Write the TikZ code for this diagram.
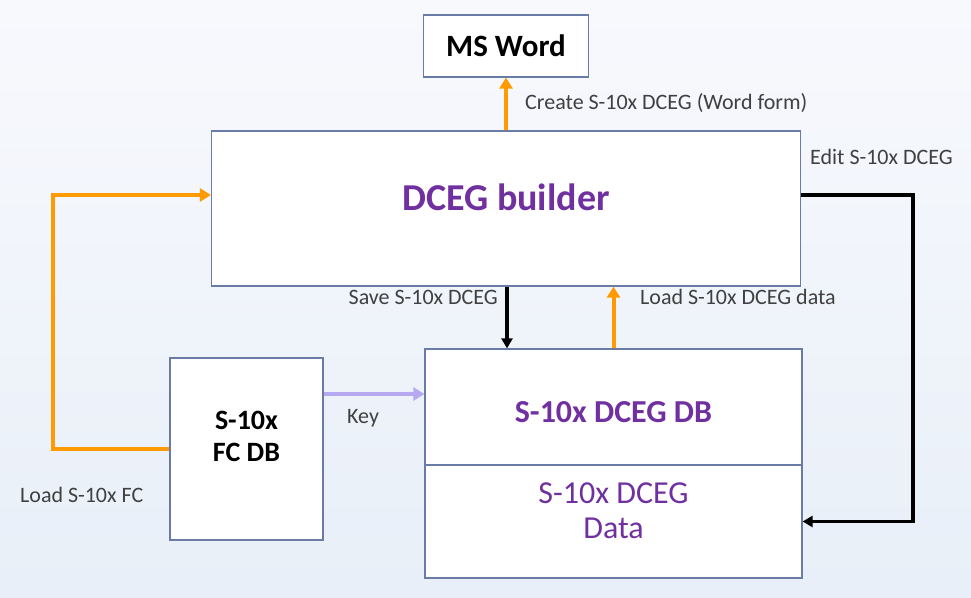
\documentclass[tikz,border=0pt]{standalone}
\usepackage{fontspec}
\setmainfont{Carlito}
\usetikzlibrary{arrows.meta,calc}
\definecolor{bgtop}{HTML}{F8F9FD}
\definecolor{bgbot}{HTML}{E8EFF8}
\definecolor{boxline}{HTML}{6A7BA6}
\definecolor{orangeline}{HTML}{FF9A00}
\definecolor{purpletext}{HTML}{7030A0}
\definecolor{keyline}{HTML}{B7A8F2}
\definecolor{labeltext}{HTML}{404040}
\tikzset{
  blockbox/.style={draw=boxline, line width=1.2pt, fill=white, inner sep=0pt, anchor=center},
  boxtext/.style={inner sep=0pt, align=center, anchor=center},
  lbl/.style={font=\fontsize{22}{26}\selectfont, text=labeltext, inner sep=0pt},
  orangearrow/.style={draw=orangeline, line width=4pt, -{Triangle[length=11pt,width=13pt]}},
  blackarrow/.style={draw=black, line width=3.5pt, -{Triangle[length=10pt,width=11pt]}},
  keyarrow/.style={draw=keyline, line width=4pt, -{Triangle[length=11pt,width=13pt]}},
}
\begin{document}
\begin{tikzpicture}[x=1pt,y=-1pt]
\shade[top color=bgtop, bottom color=bgbot] (0,0) rectangle (971,597);
\useasboundingbox (0,0) rectangle (971,597);

\node[blockbox, minimum width=165pt, minimum height=62pt, font=\bfseries\fontsize{31}{36}\selectfont] (msword) at (506,46) {MS Word};
\node[blockbox, minimum width=589pt, minimum height=155pt] (builder) at (506,208.5) {};
\node[blockbox, minimum width=153pt, minimum height=182pt] (fcdb) at (246.5,449) {};
\node[blockbox, minimum width=377pt, minimum height=116pt] (dbtop) at (613.5,407) {};
\node[blockbox, minimum width=377pt, minimum height=113pt] (dbbot) at (613.5,521.5) {};

\node[boxtext, font=\bfseries\fontsize{38}{44}\selectfont, text=purpletext] (buildertext) at (506,197) {DCEG builder};
\node[boxtext, font=\bfseries\fontsize{28}{32}\selectfont] (fcdbtext) at (246.5,436) {S-10x\\FC DB};
\node[boxtext, font=\bfseries\fontsize{32}{36}\selectfont, text=purpletext] (dbtoptext) at (613.5,412) {S-10x DCEG DB};
\node[boxtext, font=\fontsize{32}{35}\selectfont, text=purpletext] (dbbottext) at (613.5,510.5) {S-10x DCEG\\Data};

\coordinate (keyy) at (0,394);
\coordinate (rightx) at (913,0);
\coordinate (leftx) at (53,0);

\draw[orangearrow] (builder.north) -- (msword.south);
\draw[blackarrow] ([xshift=1pt]builder.south) -- ([xshift=1pt]builder.south |- dbtop.north);
\draw[orangearrow] (dbtop.north) -- (dbtop.north |- builder.south);
\draw[orangearrow, line cap=butt] (fcdb.west) -- (fcdb.west -| leftx) |- ([yshift=13.5pt]builder.west);
\draw[blackarrow] ([yshift=13.5pt]builder.east) -| (rightx |- dbbot.east) -- (dbbot.east);
\draw[keyarrow] (fcdb.east |- keyy) -- (dbtop.west |- keyy);

\node[lbl, anchor=west] (lcreate) at (525,103) {Create S-10x DCEG (Word form)};
\node[lbl, anchor=west] (ledit) at (810,157) {Edit S-10x DCEG};
\node[lbl, anchor=east] (lsave) at (498,297) {Save S-10x DCEG};
\node[lbl, anchor=west] (lload) at (640,297) {Load S-10x DCEG data};
\node[lbl, anchor=west] (lkey) at (347,418) {Key};
\node[lbl, anchor=west] (lfc) at (20,495) {Load S-10x FC};
\end{tikzpicture}
\end{document}
